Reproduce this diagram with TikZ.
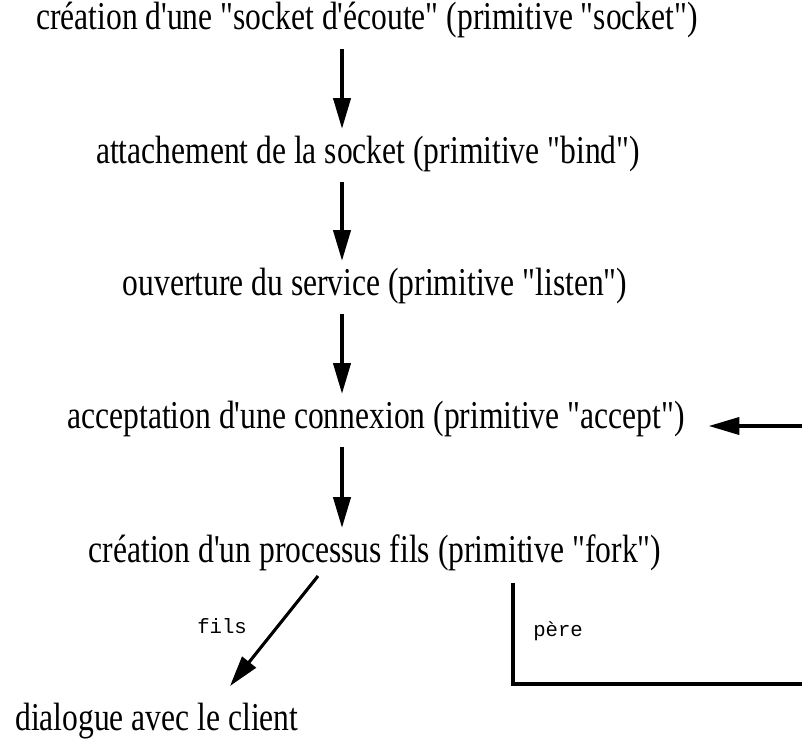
\documentclass[tikz,border=0pt]{standalone}
\usepackage{fontspec}
\setmainfont{Liberation Serif}[Ligatures=TeXOff, FakeStretch=0.8]
\setmonofont{Liberation Mono}
\usetikzlibrary{arrows.meta}

\begin{document}
\begin{tikzpicture}[x=0.75pt, y=-0.75pt,
  etape/.style={anchor=base, inner sep=0pt, text height=16.5pt, text depth=5.25pt,
    font=\fontsize{29.6}{34}\selectfont},
  branche/.style={anchor=base west, inner sep=0pt, font=\ttfamily\fontsize{15.5}{18}\selectfont},
  fleche/.style={line width=2.3pt, -{Triangle[length=23pt, width=13pt]}},
  trait/.style={line width=2.3pt}]
  \useasboundingbox (0,0) rectangle (802,738);

  % Etapes du serveur
  \node[etape] (socket) at (367,30) {création d'une "socket d'écoute" (primitive "socket")};
  \node[etape] (bind) at (368,163) {attachement de la socket (primitive "bind")};
  \node[etape] (listen) at (375,295) {ouverture du service (primitive "listen")};
  \node[etape] (accept) at (376,428) {acceptation d'une connexion (primitive "accept")};
  \node[etape] (fork) at (375,562) {création d'un processus fils (primitive "fork")};
  \node[etape, anchor=base west] (client) at (15,730) {dialogue avec le client};

  % Enchainement vertical
  \coordinate (axe) at (342,0);
  \foreach \a/\b in {socket/bind, bind/listen, listen/accept, accept/fork}
    \draw[fleche, shorten <=9pt, shorten >=9pt] (\a.south -| axe) -- (\b.north -| axe);

  % Retour vers accept
  \coordinate (retour) at (802,426);
  \draw[fleche, shorten >=18pt] (retour) -- (retour -| accept.east);

  % Branche fils
  \coordinate (fils-a) at (318,576);
  \coordinate (fils-b) at (230,686);
  \draw[fleche] (fils-a) -- (fils-b);
  \node[branche] (lfils) at (197,633) {fils};

  % Branche pere
  \coordinate (coin) at (513,684);
  \coordinate (bord) at (802,684);
  \draw[trait] ([yshift=-10.5pt]fork.south -| coin) -- (coin) -- (bord);
  \node[branche] (lpere) at (533,636) {père};
\end{tikzpicture}
\end{document}
